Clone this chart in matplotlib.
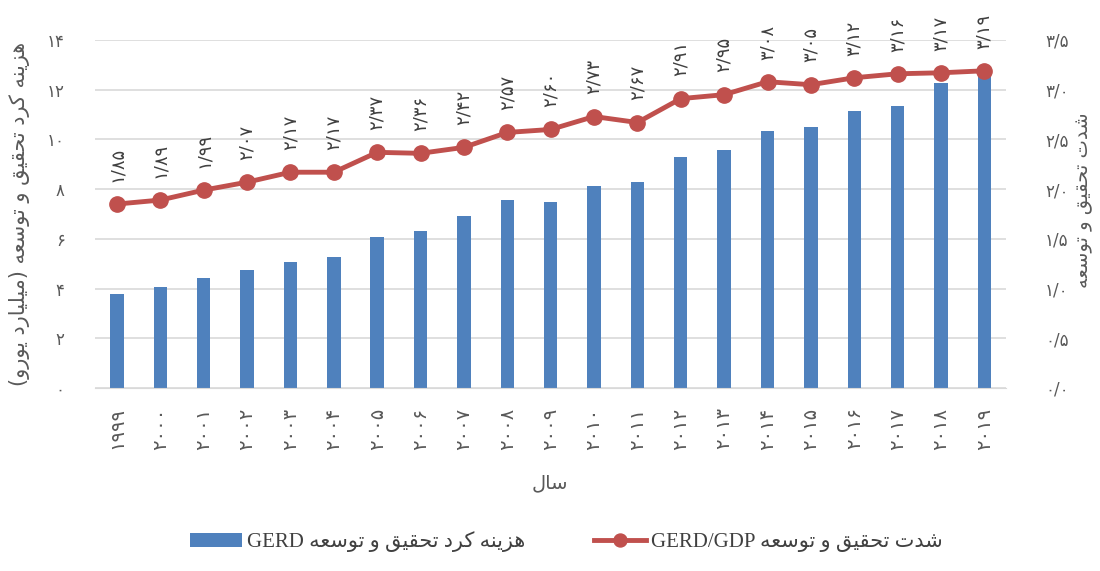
import numpy as np
import matplotlib
matplotlib.use('Agg')
import matplotlib.pyplot as plt

# values
years = list(range(1999, 2020))
gerd = [3.78, 4.06, 4.42, 4.75, 5.07, 5.27, 6.07, 6.32, 6.92, 7.56, 7.48,
        8.13, 8.29, 9.29, 9.57, 10.34, 10.50, 11.14, 11.33, 12.27, 12.67]
intensity = [1.85, 1.89, 1.99, 2.07, 2.17, 2.17, 2.37, 2.36, 2.42, 2.57, 2.60,
             2.73, 2.67, 2.91, 2.95, 3.08, 3.05, 3.12, 3.16, 3.17, 3.19]
left_ticks = [0, 2, 4, 6, 8, 10, 12, 14]
right_ticks = [0.0, 0.5, 1.0, 1.5, 2.0, 2.5, 3.0, 3.5]

# minimal persian shaping (matplotlib has no bidi / joining)
FORMS = {
    'ا': ('\uFE8D', '\uFE8E', None, None),
    'د': ('\uFEA9', '\uFEAA', None, None),
    'ر': ('\uFEAD', '\uFEAE', None, None),
    'ز': ('\uFEAF', '\uFEB0', None, None),
    'و': ('\uFEED', '\uFEEE', None, None),
    'ه': ('\uFEE9', '\uFEEA', '\uFEEB', '\uFEEC'),
    'ی': ('\uFBFC', '\uFBFD', '\uFBFE', '\uFBFF'),
    'ن': ('\uFEE5', '\uFEE6', '\uFEE7', '\uFEE8'),
    'ک': ('\uFB8E', '\uFB8F', '\uFB90', '\uFB91'),
    'ت': ('\uFE95', '\uFE96', '\uFE97', '\uFE98'),
    'ح': ('\uFEA1', '\uFEA2', '\uFEA3', '\uFEA4'),
    'ق': ('\uFED5', '\uFED6', '\uFED7', '\uFED8'),
    'س': ('\uFEB1', '\uFEB2', '\uFEB3', '\uFEB4'),
    'ع': ('\uFEC9', '\uFECA', '\uFECB', '\uFECC'),
    'م': ('\uFEE1', '\uFEE2', '\uFEE3', '\uFEE4'),
    'ل': ('\uFEDD', '\uFEDE', '\uFEDF', '\uFEE0'),
    'ش': ('\uFEB5', '\uFEB6', '\uFEB7', '\uFEB8'),
}


def fa(s):
    out = []
    for i, c in enumerate(s):
        if c not in FORMS:
            out.append(c)
            continue
        iso, fin, ini, med = FORMS[c]
        prev = s[i - 1] if i > 0 else ''
        nxt = s[i + 1] if i < len(s) - 1 else ''
        jp = prev in FORMS and FORMS[prev][2] is not None
        jn = nxt in FORMS and ini is not None
        if jp and jn:
            out.append(med)
        elif jp:
            out.append(fin)
        elif jn:
            out.append(ini)
        else:
            out.append(iso)
    return ''.join(reversed(out)).translate(str.maketrans('()', ')('))


DIG = str.maketrans('0123456789.', '۰۱۲۳۴۵۶۷۸۹/')


def pd(x):
    return str(x).translate(DIG)


plt.rcParams['font.family'] = ['DejaVu Sans']
blue = '#4F81BD'
red = '#C0504D'
grey_txt = '#595959'

fig = plt.figure(figsize=(11, 5.71), dpi=100)
ax = fig.add_axes([0.0866, 0.3205, 0.828, 0.6095])
x = np.arange(len(years))

ax.bar(x, gerd, width=0.31, color=blue, zorder=2, label='GERD ' + fa('هزینه کرد تحقیق و توسعه'))
ax.set_xlim(-0.5, len(years) - 0.5)
ax.set_ylim(0, 14)
ax.set_yticks(left_ticks)
ax.set_yticklabels([pd(t) for t in left_ticks], fontsize=12, color=grey_txt)
ax.set_xticks(x)
ax.set_xticklabels([pd(y) for y in years], rotation=90, fontsize=14, color=grey_txt)
ax.grid(axis='y', color='#D9D9D9', lw=1.2, zorder=0)
for s in ['top', 'left', 'right']:
    ax.spines[s].set_visible(False)
ax.spines['bottom'].set_color('#D9D9D9')
ax.tick_params(axis='both', length=0)
ax.tick_params(axis='y', pad=22)
ax.tick_params(axis='x', pad=14)

ax2 = ax.twinx()
ax2.plot(x, intensity, color=red, lw=3.5, marker='o', ms=11, zorder=3,
         label='GERD/GDP ' + fa('شدت تحقیق و توسعه'))
ax2.set_ylim(0, 3.5)
ax2.set_yticks(right_ticks)
ax2.set_yticklabels([pd('%.1f' % t) for t in right_ticks], fontsize=12, color=grey_txt)
for s in ax2.spines.values():
    s.set_visible(False)
ax2.tick_params(axis='y', length=0, pad=28)

for xi, v in zip(x, intensity):
    ax2.annotate(pd('%.2f' % v), (xi, v),
                 xytext=(0, 16), textcoords='offset points', rotation=90,
                 ha='center', va='bottom', fontsize=13, color='#404040',
                 annotation_clip=False)

fig.text(0.018, 0.625, fa('هزینه کرد تحقیق و توسعه (میلیارد یورو)'), rotation=90,
         ha='center', va='center', fontsize=15, color=grey_txt)
fig.text(0.985, 0.65, fa('شدت تحقیق و توسعه'), rotation=90,
         ha='center', va='center', fontsize=14, color=grey_txt)
fig.text(0.5, 0.154, fa('سال'), ha='center', va='center', fontsize=14, color=grey_txt)

h1, l1 = ax.get_legend_handles_labels()
h2, l2 = ax2.get_legend_handles_labels()
fig.legend(h1 + h2, l1 + l2, loc='lower center', bbox_to_anchor=(0.515, 0.0),
           ncol=2, frameon=False, columnspacing=3.3, handlelength=2.5,
           handletextpad=0.25, markerscale=0.85,
           prop={'family': ['Liberation Serif', 'DejaVu Sans'], 'size': 15},
           labelcolor='#404040')

fig.savefig('out.png', dpi=100)
